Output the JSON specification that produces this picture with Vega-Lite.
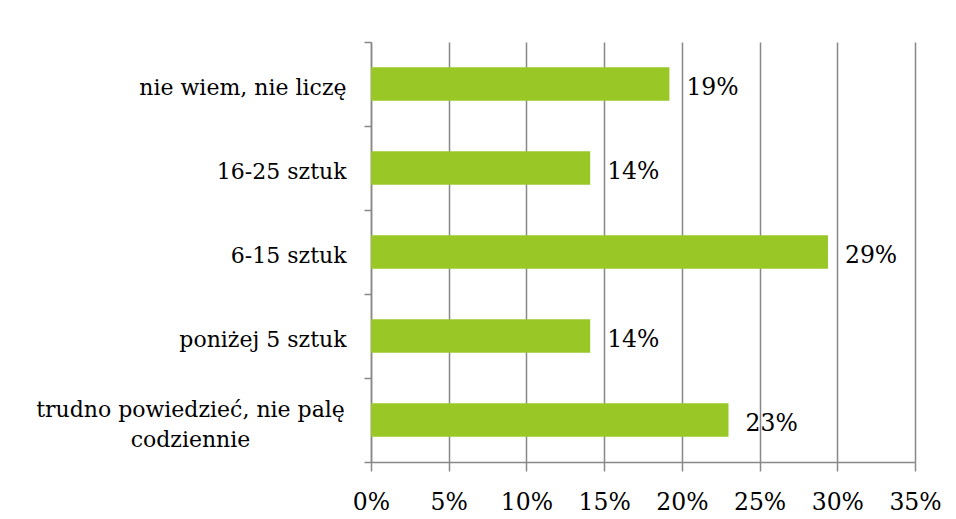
{
  "$schema": "https://vega.github.io/schema/vega-lite/v6.json",
  "autosize": "none",
  "width": 544,
  "height": 420,
  "padding": {"left": 371, "top": 42, "right": 41, "bottom": 57},
  "background": "white",
  "config": {
    "view": {"stroke": null},
    "font": "DejaVu Serif"
  },
  "data": {
    "values": [
      {"kategoria": "nie wiem, nie liczę", "udzial": 0.192},
      {"kategoria": "16-25 sztuk", "udzial": 0.141},
      {"kategoria": "6-15 sztuk", "udzial": 0.294},
      {"kategoria": "poniżej 5 sztuk", "udzial": 0.141},
      {"kategoria": "trudno powiedzieć, nie palę codziennie", "udzial": 0.230}
    ]
  },
  "encoding": {
    "y": {
      "field": "kategoria",
      "type": "nominal",
      "sort": ["nie wiem, nie liczę", "16-25 sztuk", "6-15 sztuk", "poniżej 5 sztuk", "trudno powiedzieć, nie palę codziennie"],
      "scale": {"paddingInner": 0, "paddingOuter": 0},
      "axis": {
        "title": null,
        "tickBand": "extent",
        "tickSize": 7,
        "tickColor": "#888888",
        "tickWidth": 1.5,
        "domainColor": "#888888",
        "domainWidth": 1.5,
        "labelFont": "DejaVu Serif",
        "labelFontSize": 22,
        "labelColor": "#000000",
        "labelLimit": 400,
        "labelLineHeight": 30,
        "labelPadding": {"condition": {"test": "datum.value == 'trudno powiedzieć, nie palę codziennie'", "value": 174}, "value": 18},
        "labelOffset": {"condition": {"test": "datum.value == 'trudno powiedzieć, nie palę codziennie'", "value": -11}, "value": 3},
        "labelAlign": {"condition": {"test": "datum.value == 'trudno powiedzieć, nie palę codziennie'", "value": "center"}, "value": "right"},
        "labelExpr": "datum.value == 'trudno powiedzieć, nie palę codziennie' ? ['trudno powiedzieć, nie palę', 'codziennie'] : datum.label"
      }
    },
    "x": {
      "field": "udzial",
      "type": "quantitative",
      "scale": {"domain": [0, 0.35], "nice": false},
      "axis": {
        "title": null,
        "values": [0, 0.05, 0.1, 0.15, 0.2, 0.25, 0.3, 0.35],
        "format": ".0%",
        "grid": true,
        "gridColor": "#888888",
        "gridWidth": 1.5,
        "gridOpacity": 1,
        "tickSize": 9,
        "tickColor": "#888888",
        "tickWidth": 1.5,
        "domainColor": "#888888",
        "domainWidth": 1.5,
        "labelFont": "DejaVu Serif",
        "labelFontSize": 23.5,
        "labelColor": "#000000",
        "labelPadding": 19,
        "labelFlush": false
      }
    }
  },
  "layer": [
    {"mark": {"type": "bar", "color": "#99C826", "height": {"band": 0.4}}},
    {
      "mark": {"type": "text", "align": "left", "baseline": "middle", "dx": 17, "dy": 4, "font": "DejaVu Serif", "fontSize": 23.5, "color": "#000000"},
      "encoding": {"text": {"field": "udzial", "type": "quantitative", "format": ".0%"}}
    }
  ]
}
